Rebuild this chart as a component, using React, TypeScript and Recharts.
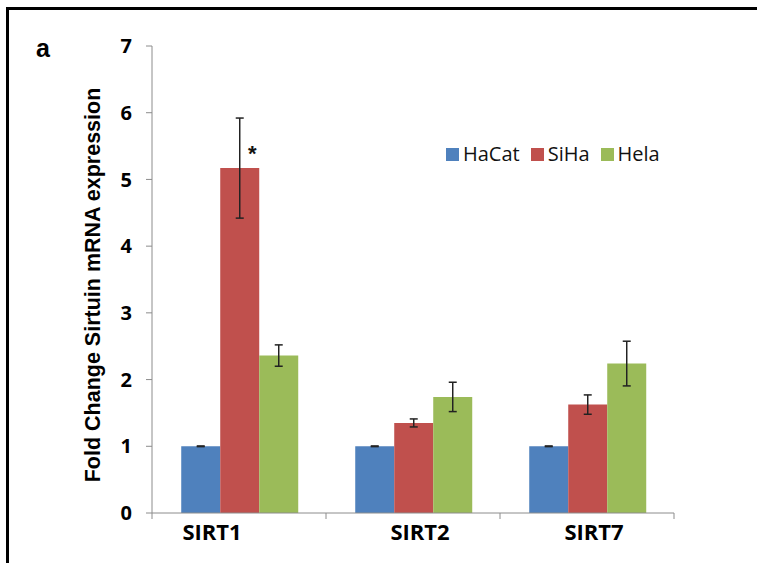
import React from 'react';
import { BarChart, Bar, XAxis, YAxis, ErrorBar, Legend, LabelList } from 'recharts';

const categories = ['SIRT1', 'SIRT2', 'SIRT7'];
const seriesNames = ['HaCat', 'SiHa', 'Hela'];
const hacat = [1, 1, 1];
const hacatErr = [0.005, 0.005, 0.005];
const siha = [5.17, 1.35, 1.625];
const sihaErr = [0.75, 0.06, 0.145];
const hela = [2.36, 1.74, 2.24];
const helaErr = [0.16, 0.22, 0.335];
const sihaMark = ['*', '', ''];
const yTicks = [0, 1, 2, 3, 4, 5, 6, 7];

const COLORS = ['#4F81BD', '#C0504D', '#9BBB59'];
const AXIS = '#8c8c8c';
const LABEL_SHIFT = [-27, 7, 7];

const data = categories.map((name, i) => ({
  name,
  hacat: hacat[i],
  hacatErr: hacatErr[i],
  siha: siha[i],
  sihaErr: sihaErr[i],
  hela: hela[i],
  helaErr: helaErr[i],
  mark: sihaMark[i],
}));

const CatTick = (props: any) => {
  const { x, y, payload, index, width } = props;
  const half = payload && payload.offset ? payload.offset : width / categories.length / 2;
  const idx = typeof index === 'number' ? index : categories.indexOf(payload.value);
  return (
    <g>
      <line x1={x - half} x2={x - half} y1={y} y2={y + 6} stroke={AXIS} strokeWidth={1} />
      {idx === categories.length - 1 ? (
        <line x1={x + half} x2={x + half} y1={y} y2={y + 6} stroke={AXIS} strokeWidth={1} />
      ) : null}
      <text
        x={x + LABEL_SHIFT[idx]}
        y={y + 27}
        textAnchor="middle"
        fontFamily="'Open Sans', sans-serif"
        fontWeight="bold"
        fontSize={22}
        fill="#000"
      >
        {payload.value}
      </text>
    </g>
  );
};

const renderLegend = () => (
  <div style={{ display: 'flex', alignItems: 'center', gap: 11, fontFamily: "'Open Sans', sans-serif", fontSize: 20, color: '#111', whiteSpace: 'nowrap' }}>
    {seriesNames.map((n, i) => (
      <div key={n} style={{ display: 'flex', alignItems: 'center', gap: 4 }}>
        <div style={{ width: 13, height: 13, background: COLORS[i] }} />
        <span style={{ lineHeight: '20px' }}>{n}</span>
      </div>
    ))}
  </div>
);

const Mark = (props: any) => {
  const { x, y, width, value } = props;
  if (!value) return null;
  return (
    <text x={x + width * 0.82} y={y - 7} textAnchor="middle" fontFamily="'Liberation Sans', Arial, sans-serif" fontWeight="bold" fontSize={22} fill="#111">
      {value}
    </text>
  );
};

const YTitle = () => (
  <text
    x={93}
    y={285}
    transform="rotate(-90, 93, 285)"
    textAnchor="middle"
    dominantBaseline="central"
    fontFamily="'Liberation Sans', Arial, sans-serif"
    fontWeight="bold"
    fontSize={21.5}
    fill="#000"
  >
    Fold Change Sirtuin mRNA expression
  </text>
);

export default function App() {
  return (
    <div style={{ position: 'absolute', left: 0, top: 0, width: 757, height: 563, background: '#fff', overflow: 'hidden' }}>
      <BarChart
        width={757}
        height={563}
        data={data}
        margin={{ top: 46, right: 83, bottom: 10, left: 0 }}
        barCategoryGap="16.8%"
        barGap={0}
      >
        <XAxis
          dataKey="name"
          type="category"
          interval={0}
          axisLine={{ stroke: AXIS, strokeWidth: 1 }}
          tickLine={false}
          tickSize={0}
          tickMargin={0}
          height={40}
          tick={<CatTick />}
        />
        <YAxis
          width={152}
          domain={[0, 7]}
          ticks={yTicks}
          interval={0}
          allowDataOverflow
          axisLine={{ stroke: AXIS, strokeWidth: 1 }}
          tickLine={{ stroke: AXIS, strokeWidth: 1 }}
          tickSize={6}
          tickMargin={14}
          tick={{ fontFamily: "'Open Sans', sans-serif", fontWeight: 'bold', fontSize: 20, fill: '#000' }}
          label={<YTitle />}
        />
        <Legend layout="horizontal" verticalAlign="middle" content={renderLegend}
          wrapperStyle={{ position: 'absolute', left: 446, top: 144, width: 'auto', height: 'auto' }} />
        <Bar dataKey="hacat" name="HaCat" fill={COLORS[0]} isAnimationActive={false}>
          <ErrorBar dataKey="hacatErr" width={4} stroke="#222" strokeWidth={1.5} />
        </Bar>
        <Bar dataKey="siha" name="SiHa" fill={COLORS[1]} isAnimationActive={false}>
          <ErrorBar dataKey="sihaErr" width={4} stroke="#222" strokeWidth={1.5} />
          <LabelList dataKey="mark" content={<Mark />} />
        </Bar>
        <Bar dataKey="hela" name="Hela" fill={COLORS[2]} isAnimationActive={false}>
          <ErrorBar dataKey="helaErr" width={4} stroke="#222" strokeWidth={1.5} />
        </Bar>
      </BarChart>
      <div style={{ position: 'absolute', left: 6, top: 7, width: 800, height: 553, borderTop: '3px solid #000', borderLeft: '3px solid #000', borderBottom: '1px solid #999', pointerEvents: 'none' }} />
      <div style={{ position: 'absolute', left: 36, top: 34, fontFamily: "'Liberation Sans', Arial, sans-serif", fontWeight: 'bold', fontSize: 25, lineHeight: '28px', color: '#000' }}>a</div>
    </div>
  );
}
